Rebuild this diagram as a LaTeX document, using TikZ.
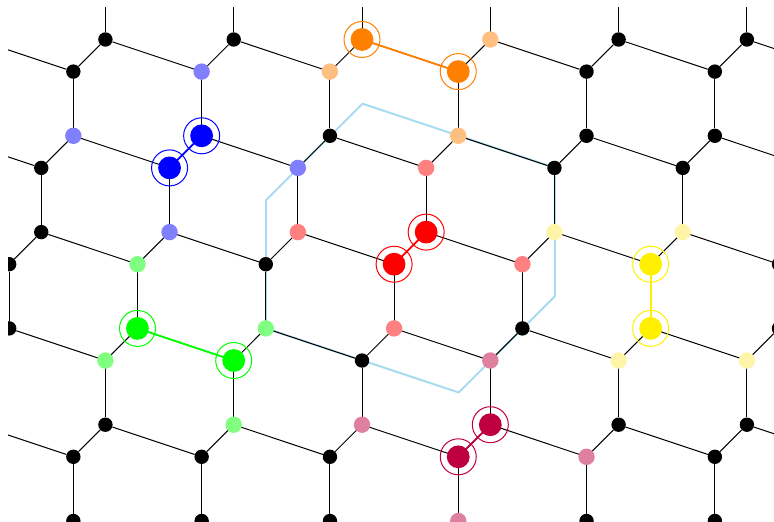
\documentclass[tikz,border=0pt]{standalone}
\usepackage{tikz}

\definecolor{dimerblue}{RGB}{0,0,255}
\definecolor{dimerred}{RGB}{255,0,0}
\definecolor{dimergreen}{RGB}{0,255,0}
\definecolor{dimerorange}{RGB}{255,128,0}
\definecolor{dimeryellow}{RGB}{255,240,0}
\definecolor{tailyellow}{RGB}{255,235,80}
\definecolor{dimercrimson}{RGB}{191,0,64}
\definecolor{cellblue}{RGB}{168,220,240}

\tikzset{
site/.style={circle,fill=black,inner sep=0pt,minimum size=14.4pt},
tail/.style={circle,fill=#1!50!white,inner sep=0pt,minimum size=16.4pt},
head/.style={circle,fill=#1,inner sep=0pt,minimum size=22.8pt},
ring/.style={circle,draw=#1,line width=1pt,inner sep=0pt,minimum size=36pt}
}

\begin{document}
\begin{tikzpicture}[x=1pt,y=-1pt]

\useasboundingbox (0,0) rectangle (774,522);
\clip (8,7) rectangle (776,522);

% Unit cell
\draw[cellblue,line width=2pt,line join=round] (362.5,103.7) -- (554.9,167.8) -- (554.9,296.2) -- (458.7,392.5) -- (266.2,328.4) -- (266.2,200) -- cycle;

% Sites
\foreach \i in {0,...,10}
{
\foreach \j in {0,...,6}
{
\pgfmathsetmacro{\xa}{-119.13+128.3*\i-32.07*\j}
\pgfmathsetmacro{\ya}{-56.8+96.3*\j}
\node[site] (a\i-\j) at (\xa,\ya) {};
\node[site] (b\i-\j) at (\xa-32.07,\ya+32.1) {};
}
}

% Bonds
\foreach \i in {0,...,9}
{
\foreach \j in {1,...,6}
{
\pgfmathtruncatemacro{\k}{\i+1}
\pgfmathtruncatemacro{\l}{\j-1}
\draw[line width=1pt] (a\i-\j) -- (b\i-\j);
\draw[line width=1pt] (a\i-\j) -- (b\i-\l);
\draw[line width=1pt] (a\i-\j) -- (b\k-\j);
}
}

% Sites next to a dimer
\foreach \colr/\n in {
dimerorange/a5-1,dimerorange/b4-1,dimerorange/a5-2,
dimerblue/b3-1,dimerblue/a2-2,dimerblue/b4-2,dimerblue/a3-3,
dimerred/b5-2,dimerred/b6-3,dimerred/a4-3,dimerred/a5-4,
dimergreen/b3-3,dimergreen/b3-4,dimergreen/a4-4,dimergreen/a4-5,
tailyellow/a7-3,tailyellow/a6-3,tailyellow/b7-4,tailyellow/b8-4,
dimercrimson/b6-4,dimercrimson/b7-5,dimercrimson/a5-5,dimercrimson/a6-6}
{
\node[tail=\colr] (t\n) at (\n) {};
}

% Dimers
\foreach \colr/\p/\q in {
dimerorange/a4-1/b5-1,
dimerblue/a3-2/b3-2,
dimerred/a5-3/b5-3,
dimergreen/a3-4/b4-4,
dimeryellow/b7-3/a7-4,
dimercrimson/a6-5/b6-5}
{
\node[ring=\colr] (r\p) at (\p) {};
\node[ring=\colr] (r\q) at (\q) {};
\draw[\colr,line width=1.8pt] (\p) -- (\q);
\node[head=\colr] (h\p) at (\p) {};
\node[head=\colr] (h\q) at (\q) {};
}

\end{tikzpicture}
\end{document}
